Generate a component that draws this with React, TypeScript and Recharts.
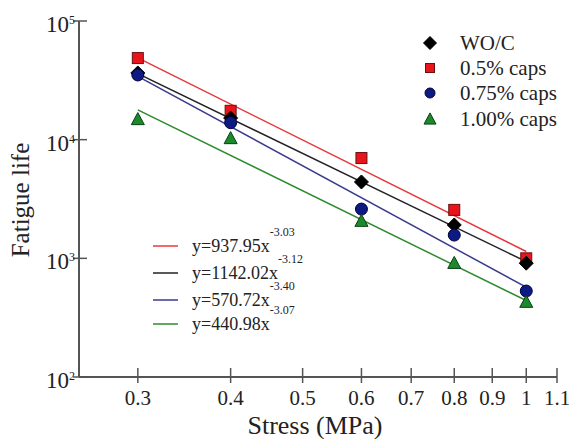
import { ScatterChart, Scatter, XAxis, YAxis } from "recharts";

// stress levels (MPa)
const stress = [0.3, 0.4, 0.6, 0.8, 1.0];

// fatigue life per mix
const woc = [36500, 15200, 4400, 1910, 910];
const caps05 = [48700, 17500, 7000, 2560, 1000];
const caps075 = [35100, 13900, 2600, 1570, 530];
const caps100 = [14900, 10300, 2070, 915, 430];

// fitted power lines, read at the ends
const fitX = [0.3, 1.0];
const fitRed = [48900, 1142];
const fitBlack = [36000, 938];
const fitBlue = [34200, 571];
const fitGreen = [17800, 441];

const xTicks = [0.3, 0.4, 0.5, 0.6, 0.7, 0.8, 0.9, 1, 1.1];
const yTicks = [100, 1000, 10000, 100000];

const seriesNames = ["WO/C", "0.5% caps", "0.75% caps", "1.00% caps"];
const fitLabels = [
  ["y=937.95x", "-3.03"],
  ["y=1142.02x", "-3.12"],
  ["y=570.72x", "-3.40"],
  ["y=440.98x", "-3.07"],
];

const serif = "'Liberation Serif', 'Times New Roman', serif";
const axisColor = "#555";
const txt = "#222";

const RED = "#e8161c";
const BLACK = "#000";
const BLUE = "#0d1a82";
const GREEN = "#1c8a2c";

const toPts = (xs: number[], ys: number[]) => xs.map((x, i) => ({ x, y: ys[i] }));

const Diamond = ({ cx, cy, r = 7 }: any) => (
  <path d={`M${cx},${cy - r}L${cx + r},${cy}L${cx},${cy + r}L${cx - r},${cy}Z`} fill={BLACK} stroke="#000" />
);
const Square = ({ cx, cy, s = 11 }: any) => (
  <rect x={cx - s / 2} y={cy - s / 2} width={s} height={s} fill={RED} stroke="#6a1010" strokeWidth={1} />
);
const Circle = ({ cx, cy, r = 6 }: any) => <circle cx={cx} cy={cy} r={r} fill={BLUE} stroke="#000040" />;
const Triangle = ({ cx, cy, w = 13 }: any) => {
  const h = w * 0.85;
  return (
    <path
      d={`M${cx},${cy - h / 2 - 1}L${cx + w / 2},${cy + h / 2}L${cx - w / 2},${cy + h / 2}Z`}
      fill={GREEN}
      stroke="#0a4010"
    />
  );
};

const XTick = (props: any) => {
  const { x, y, payload } = props;
  return (
    <g>
      <line x1={x} x2={x} y1={y - 9} y2={y + 6} stroke={axisColor} strokeWidth={1.5} />
      <text x={x} y={y + 28} textAnchor="middle" fontSize={21} fontFamily={serif} fill={txt}>
        {payload.value}
      </text>
    </g>
  );
};

const YTick = (props: any) => {
  const { x, y, payload } = props;
  const exp = Math.round(Math.log10(payload.value));
  return (
    <g>
      <line x1={x - 6} x2={x + 8} y1={y} y2={y} stroke={axisColor} strokeWidth={1.5} />
      <text x={x - 10} y={y + 11} textAnchor="end" fontSize={23} fontFamily={serif} fill={txt}>
        10
      </text>
      <text x={x - 10} y={y + 3} fontSize={12} fontFamily={serif} fill={txt}>
        {exp}
      </text>
    </g>
  );
};

const NoDot = () => <g />;

const legendShapes = [Diamond, Square, Circle, Triangle];
const legendRows = [35, 60, 85, 111];
const fitColors = ["#e8383a", "#222", "#3a3a8c", "#2e8b2e"];
const fitRows = [238, 265, 292, 316];

export default function App() {
  return (
    <div style={{ position: "relative", width: 569, height: 439, overflow: "hidden" }}>
      <style>{`body { margin: 0; } .recharts-surface { overflow: visible; }`}</style>
      <div style={{ position: "absolute", left: 8, top: 8, width: 561, height: 431 }}>
        <ScatterChart width={561} height={431} margin={{ top: 13, right: 12, left: 0, bottom: 0 }}>
          <XAxis
            type="number"
            dataKey="x"
            scale="log"
            domain={[0.25, 1.1]}
            allowDataOverflow
            ticks={xTicks}
            interval={0}
            height={62}
            tickSize={0}
            tickMargin={0}
            tickLine={false}
            axisLine={{ stroke: axisColor, strokeWidth: 2 }}
            tick={<XTick />}
          />
          <YAxis
            type="number"
            dataKey="y"
            scale="log"
            domain={[100, 100000]}
            allowDataOverflow
            ticks={yTicks}
            interval={0}
            width={71}
            tickSize={0}
            tickMargin={0}
            tickLine={false}
            axisLine={{ stroke: axisColor, strokeWidth: 2 }}
            tick={<YTick />}
          />
          <Scatter data={toPts(fitX, fitRed)} line={{ stroke: fitColors[0], strokeWidth: 1.5 }} shape={<NoDot />} isAnimationActive={false} />
          <Scatter data={toPts(fitX, fitBlack)} line={{ stroke: fitColors[1], strokeWidth: 1.5 }} shape={<NoDot />} isAnimationActive={false} />
          <Scatter data={toPts(fitX, fitBlue)} line={{ stroke: fitColors[2], strokeWidth: 1.5 }} shape={<NoDot />} isAnimationActive={false} />
          <Scatter data={toPts(fitX, fitGreen)} line={{ stroke: fitColors[3], strokeWidth: 1.5 }} shape={<NoDot />} isAnimationActive={false} />

          <Scatter data={toPts(stress, caps05)} shape={<Square />} isAnimationActive={false} />
          <Scatter data={toPts(stress, woc)} shape={<Diamond />} isAnimationActive={false} />
          <Scatter data={toPts(stress, caps075)} shape={<Circle />} isAnimationActive={false} />
          <Scatter data={toPts(stress, caps100)} shape={<Triangle />} isAnimationActive={false} />
        </ScatterChart>

        <svg width={561} height={431} style={{ position: "absolute", left: 0, top: 0, pointerEvents: "none", overflow: "visible" }}>
          {seriesNames.map((name, i) => {
            const Shape = legendShapes[i];
            const cy = legendRows[i];
            const small = i === 0 ? { r: 6.5 } : i === 1 ? { s: 9 } : i === 2 ? { r: 5 } : { w: 12 };
            return (
              <g key={name}>
                <Shape cx={422} cy={cy} {...small} />
                <text x={452} y={cy + 7} fontSize={21} fontFamily={serif} fill={txt}>
                  {name}
                </text>
              </g>
            );
          })}

          {fitLabels.map(([base, sup], i) => {
            const y = fitRows[i];
            return (
              <g key={base}>
                <line x1={145} x2={170} y1={y} y2={y} stroke={fitColors[i]} strokeWidth={1.5} />
                <text x={184} y={y + 6} fontSize={18} fontFamily={serif} fill={txt}>
                  <tspan>{base}</tspan>
                  <tspan dy={-16} fontSize={12}>
                    {sup}
                  </tspan>
                </text>
              </g>
            );
          })}

          <text
            x={12}
            y={192}
            transform="rotate(-90 12 192)"
            textAnchor="middle"
            dominantBaseline="central"
            fontSize={25}
            fontFamily={serif}
            fill={txt}
          >
            Fatigue life
          </text>
          <text x={307} y={426} textAnchor="middle" fontSize={26} fontFamily={serif} fill={txt}>
            Stress (MPa)
          </text>
        </svg>
      </div>
    </div>
  );
}
